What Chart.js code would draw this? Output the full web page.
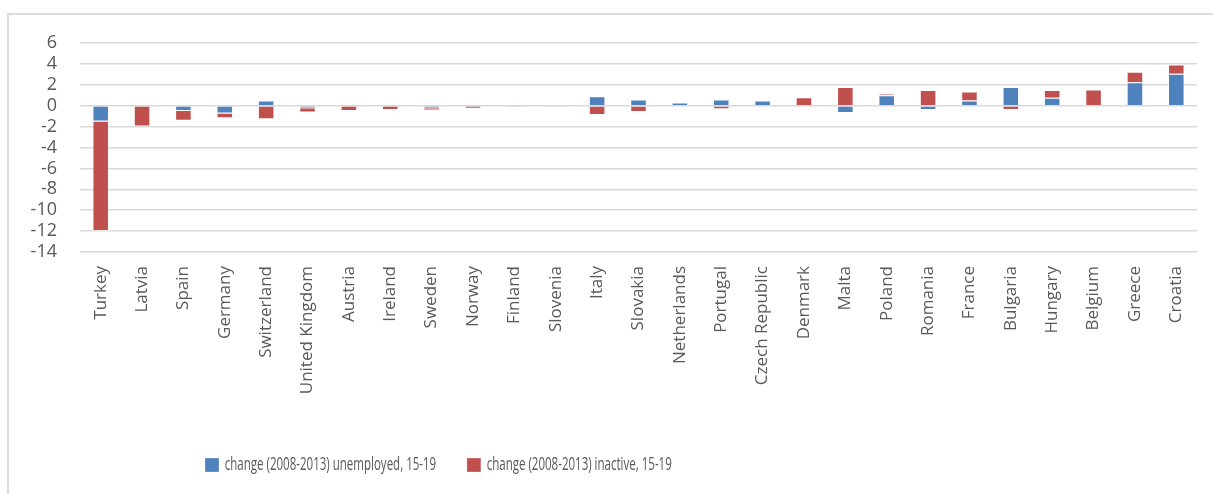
<!DOCTYPE html>
<html>
<head>
<meta charset="utf-8">
<script src="https://cdn.jsdelivr.net/npm/chart.js@4.4.1/dist/chart.umd.min.js"></script>
<style>
  html, body { margin: 0; padding: 0; background: #fff; }
  #wrap { position: relative; width: 1213px; height: 494px; overflow: hidden; }
  #frame { position: absolute; left: 7px; top: 13px; width: 1300px; height: 600px;
           border-top: 2px solid #dcdcdc; border-left: 2px solid #dcdcdc; }
  canvas { position: absolute; left: 0; top: 0; }
</style>
</head>
<body>
<div id="wrap">
  <div id="frame"></div>
  <canvas id="c" width="1213" height="494"></canvas>
</div>
<script>
// Countries, ordered by total change
const categories = [
  'Turkey', 'Latvia', 'Spain', 'Germany', 'Switzerland', 'United Kingdom',
  'Austria', 'Ireland', 'Sweden', 'Norway', 'Finland', 'Slovenia', 'Italy',
  'Slovakia', 'Netherlands', 'Portugal', 'Czech Republic', 'Denmark', 'Malta',
  'Poland', 'Romania', 'France', 'Bulgaria', 'Hungary', 'Belgium', 'Greece', 'Croatia'
];

// Percentage-point change 2008-2013, age 15-19
const unemployedChange = [
  -1.5, 0, -0.5, -0.75, 0.5, -0.25,
  0, 0, -0.25, 0, 0.05, 0.05, 0.9,
  0.6, 0.3, 0.6, 0.5, -0.1, -0.7,
  1.0, -0.4, 0.5, 1.8, 0.75, 0, 2.25, 3.05
];
const inactiveChange = [
  -10.5, -2.0, -0.95, -0.45, -1.3, -0.4,
  -0.5, -0.4, -0.2, -0.3, -0.15, -0.05, -0.9,
  -0.6, 0, -0.35, 0, 0.8, 1.8,
  0.12, 1.5, 0.85, -0.4, 0.75, 1.55, 1.0, 0.9
];

const seriesNames = [
  'change (2008-2013) unemployed, 15-19',
  'change (2008-2013) inactive, 15-19'
];

// Value axis range and step
const yMin = -14;
const yMax = 6;
const yStep = 2;

const BLUE = '#4F81BD';
const RED = '#C0504D';
const TEXT = '#595959';
const GRID = '#d9d9d9';

// Legend is drawn horizontally condensed, like a narrow UI font
const LEGEND_SX = 0.64;
const LEGEND_START_X = 205;
const LEGEND_CENTER_Y = 465;

const legendPlacer = {
  id: 'legendPlacer',
  afterLayout(chart) {
    const lg = chart.legend;
    if (!lg || !lg.lineWidths) return;
    const lw = lg.lineWidths[0];
    const pad = lg.options.labels.padding;
    const startX = LEGEND_START_X / LEGEND_SX;
    const fontSize = lg.options.labels.font.size;
    const itemH = Math.max(fontSize, lg.options.labels.boxHeight || fontSize);
    const h = lg.height;
    lg.right = startX + lw + 2;
    lg.left = startX - pad - 2;
    lg.width = lg.right - lg.left;
    lg.top = LEGEND_CENTER_Y - pad - itemH / 2;
    lg.bottom = lg.top + h;
    if (!lg._condensed) {
      const baseDraw = lg.draw.bind(lg);
      lg.draw = function (area) {
        const ctx = chart.ctx;
        ctx.save();
        ctx.scale(LEGEND_SX, 1);
        baseDraw(area);
        ctx.restore();
      };
      lg._condensed = true;
    }
  }
};

new Chart(document.getElementById('c'), {
  type: 'bar',
  data: {
    labels: categories,
    datasets: [
      {
        label: seriesNames[0],
        data: unemployedChange,
        backgroundColor: BLUE,
        borderColor: 'rgba(255,255,255,0.35)',
        borderWidth: 1,
        barPercentage: 0.4,
        categoryPercentage: 1
      },
      {
        label: seriesNames[1],
        data: inactiveChange,
        backgroundColor: RED,
        borderColor: 'rgba(255,255,255,0.35)',
        borderWidth: 1,
        barPercentage: 0.4,
        categoryPercentage: 1
      }
    ]
  },
  options: {
    responsive: false,
    animation: false,
    devicePixelRatio: 1,
    layout: { padding: { top: 43, right: 16, bottom: 0, left: 0 } },
    plugins: {
      tooltip: { enabled: false },
      legend: {
        position: 'bottom',
        labels: {
          boxWidth: 14 / LEGEND_SX,
          boxHeight: 14,
          padding: 48,
          color: TEXT,
          font: { family: '"Open Sans", sans-serif', size: 18 }
        }
      }
    },
    scales: {
      x: {
        stacked: true,
        grid: { display: false, drawTicks: false },
        border: { display: false },
        ticks: {
          autoSkip: false,
          maxRotation: 90,
          minRotation: 90,
          padding: 14,
          color: TEXT,
          font: { family: '"Open Sans", sans-serif', size: 17 }
        },
        afterFit(scale) {
          scale.height = 242 - scale.chart.legend.height;
        }
      },
      y: {
        stacked: true,
        min: yMin,
        max: yMax,
        grid: { color: GRID, lineWidth: 1.5, drawTicks: false },
        border: { display: false },
        ticks: {
          autoSkip: false,
          stepSize: yStep,
          padding: 23,
          color: TEXT,
          font: { family: '"Open Sans", sans-serif', size: 18 }
        },
        afterFit(scale) {
          scale.width = 80;
        }
      }
    }
  },
  plugins: [legendPlacer]
});
</script>
</body>
</html>
